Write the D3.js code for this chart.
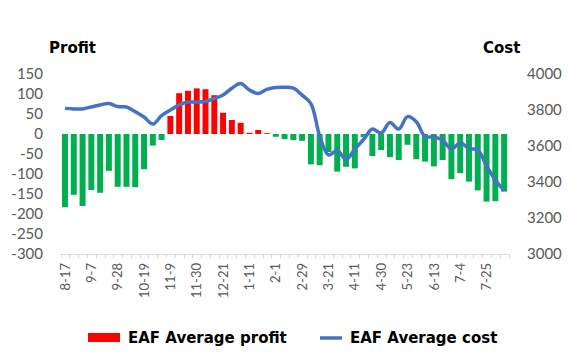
<!DOCTYPE html>
<html>
<head>
<meta charset="utf-8">
<script src="https://cdn.jsdelivr.net/npm/d3@7"></script>
<style>
  body { margin: 0; background: #fff; }
  svg { display: block; }
</style>
</head>
<body>
<svg id="chart" width="573" height="352"></svg>
<script>
// weekly categories (only every third one gets a label)
const categories = [
  "8-17","8-24","8-31","9-7","9-14","9-21","9-28","10-5","10-12","10-19",
  "10-26","11-2","11-9","11-16","11-23","11-30","12-7","12-14","12-21","12-28",
  "1-4","1-11","1-18","1-25","2-1","2-8","2-22","2-29","3-7","3-14",
  "3-21","3-28","4-4","4-11","4-18","4-25","4-30","5-9","5-16","5-23",
  "5-30","6-6","6-13","6-20","6-27","7-4","7-11","7-18","7-25","8-1","8-8"
];
const tickLabels = ["8-17","9-7","9-28","10-19","11-9","11-30","12-21","1-11","2-1",
  "2-29","3-21","4-11","4-30","5-23","6-13","7-4","7-25"];

const profit = [
  -183,-152,-180,-140,-147,-92,-132,-132,-133,-88,
  -29,-15,45,102,108,114,112,97,53,35,
  28,3,10,2,-7,-13,-15,-17,-76,-78,
  -45,-94,-82,-86,-8,-55,-40,-58,-65,-27,
  -63,-69,-81,-65,-113,-98,-119,-141,-169,-168,-144
];
const cost = [
  3809,3806,3806,3817,3828,3836,3819,3817,3791,3761,
  3722,3769,3800,3828,3844,3844,3847,3864,3883,3921,
  3947,3911,3892,3915,3925,3926,3921,3883,3836,3656,
  3550,3575,3525,3583,3636,3694,3672,3731,3694,3763,
  3735,3653,3650,3633,3583,3618,3586,3578,3489,3411,3353
];
const profitTicks = [150,100,50,0,-50,-100,-150,-200,-250,-300];
const costTicks = [4000,3800,3600,3400,3200,3000];

const svg = d3.select("#chart");
const textCol = "#595959";
const plain = d => String(d); // hyphen minus, no thousands comma

let x = d3.scaleBand()
    .domain(categories)
    .range([60.6, 508.5])
    .paddingInner(0.32)
    .paddingOuter(0.16);

let yL = d3.scaleLinear().domain([-300, 150]).range([254, 74]);
let yR = d3.scaleLinear().domain([3000, 4000]).range([254, 74]);

// left axis labels
let left = d3.axisLeft(yL).tickValues(profitTicks).tickFormat(plain).tickSize(0).tickPadding(0);
svg.append("g")
    .attr("transform", "translate(43,0)")
    .call(left)
    .call(g => g.select(".domain").remove())
    .selectAll("text")
    .attr("font-family", "Lato")
    .attr("font-size", 15)
    .attr("fill", textCol);

// right axis labels
let right = d3.axisRight(yR).tickValues(costTicks).tickFormat(plain).tickSize(0).tickPadding(0);
svg.append("g")
    .attr("transform", "translate(527,0)")
    .call(right)
    .call(g => g.select(".domain").remove())
    .selectAll("text")
    .attr("font-family", "Lato")
    .attr("font-size", 15)
    .attr("fill", textCol);

// bars
svg.append("g").selectAll("rect")
    .data(profit)
    .enter()
    .append("rect")
    .attr("x", (d, i) => x(categories[i]))
    .attr("width", x.bandwidth())
    .attr("y", d => yL(Math.max(0, d)))
    .attr("height", d => Math.abs(yL(d) - yL(0)))
    .attr("fill", d => d >= 0 ? "#FF0000" : "#00B050");

// bottom category axis, ticks between every category
let bottom = d3.axisBottom(x)
    .tickValues(tickLabels)
    .tickSize(0)
    .tickPadding(0);
let bx = svg.append("g")
    .attr("transform", "translate(0,254)")
    .call(bottom);
bx.select(".domain").attr("stroke", "#d9d9d9").attr("d", "M60.6,0.5H508.5");
bx.selectAll("text")
    .attr("font-family", "Lato")
    .attr("font-size", 13)
    .attr("fill", textCol)
    .attr("text-anchor", "end")
    .attr("transform", "rotate(-90)")
    .attr("x", -9)
    .attr("y", 0)
    .attr("dy", "0.36em");
bx.selectAll(".tick line").remove();

svg.append("g").selectAll("line")
    .data(categories.concat(["_end"]))
    .enter()
    .append("line")
    .attr("x1", (d, i) => Math.round(60.6 + i * x.step()) + 0.5)
    .attr("x2", (d, i) => Math.round(60.6 + i * x.step()) + 0.5)
    .attr("y1", 254)
    .attr("y2", 258)
    .attr("stroke", "#d9d9d9");

// cost line
let line = d3.line()
    .x((d, i) => x(categories[i]) + x.bandwidth() / 2)
    .y(d => yR(d))
    .curve(d3.curveCatmullRom);

svg.append("path")
    .datum(cost)
    .attr("d", line)
    .attr("fill", "none")
    .attr("stroke", "#4472C4")
    .attr("stroke-width", 3.5)
    .attr("stroke-linejoin", "round");

// axis titles
svg.append("text").text("Profit")
    .attr("x", 49).attr("y", 53)
    .attr("font-family", "DejaVu Sans").attr("font-weight", "bold")
    .attr("font-size", 15).attr("fill", "#000");
svg.append("text").text("Cost")
    .attr("x", 483).attr("y", 53)
    .attr("font-family", "DejaVu Sans").attr("font-weight", "bold")
    .attr("font-size", 15).attr("fill", "#000");

// legend
let lg = svg.append("g");
lg.append("rect")
    .attr("x", 88).attr("y", 333).attr("width", 32).attr("height", 9)
    .attr("fill", "#FF0000");
lg.append("text").text("EAF Average profit")
    .attr("x", 128).attr("y", 343)
    .attr("font-family", "DejaVu Sans").attr("font-weight", "bold")
    .attr("font-size", 15).attr("fill", "#000");
lg.append("line")
    .attr("x1", 320).attr("x2", 342).attr("y1", 338).attr("y2", 338)
    .attr("stroke", "#4472C4").attr("stroke-width", 3.5);
lg.append("text").text("EAF Average cost")
    .attr("x", 350).attr("y", 343)
    .attr("font-family", "DejaVu Sans").attr("font-weight", "bold")
    .attr("font-size", 15).attr("fill", "#000");
</script>
</body>
</html>
